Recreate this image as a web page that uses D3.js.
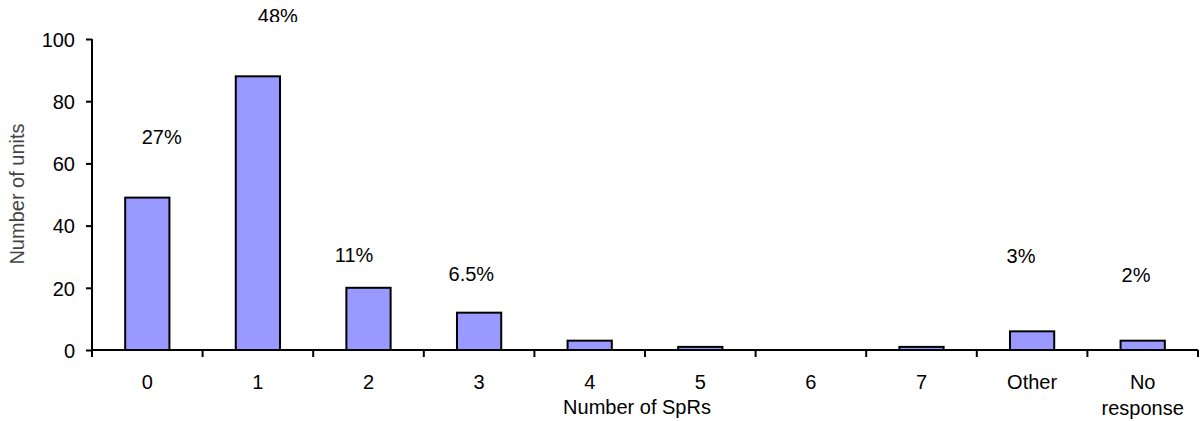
<!DOCTYPE html>
<html><head><meta charset="utf-8">
<script src="https://cdn.jsdelivr.net/npm/d3@7"></script>
<style>body{margin:0;background:#fff}svg{display:block}text{font-family:"Liberation Sans",Arial,sans-serif}</style>
</head><body><svg id="c" width="1203" height="421"></svg>
<script>
const categories = ["0","1","2","3","4","5","6","7","Other","No response"];
const units = [49, 88, 20, 12, 3, 1, 0, 1, 6, 3];
const yTicks = [0, 20, 40, 60, 80, 100];
const pctLabels = ["27%","48%","11%","6.5%","3%","2%"];
const pctCategory = ["0","1","2","3","Other","No response"];
const pctShift = [0.13, 0.18, -0.13, -0.07, -0.1, -0.06];
const pctValue = [68.5, 107.5, 30.5, 24.4, 30.2, 24.1];

const FS = 20;
const svg = d3.select("#c");
const m = {l:92, r:1198, t:39, b:350};
const x = d3.scaleBand().domain(categories).range([m.l, m.r]).paddingInner(0.6).paddingOuter(0.3);
const xb = d3.scaleBand().domain(categories).range([m.l, m.r]);
const y = d3.scaleLinear().domain([0,100]).range([m.b, m.t]);

svg.append("defs").append("clipPath").attr("id", "topclip")
  .append("rect").attr("x", 0).attr("y", 0).attr("width", 1203).attr("height", 22);

// bars
svg.selectAll("rect.bar").data(categories).join("rect")
  .attr("x", d => x(d)).attr("width", x.bandwidth())
  .attr("y", (d,i) => y(units[i])).attr("height", (d,i) => y(0) - y(units[i]))
  .attr("fill", "#9999FF").attr("stroke", "#000").attr("stroke-width", 2);

// y axis
const ya = svg.append("g").attr("transform", `translate(${m.l},0)`)
  .call(d3.axisLeft(y).tickValues(yTicks).tickSize(6).tickPadding(11));
ya.select(".domain").attr("stroke-width", 2).attr("d", `M-0,${m.t}V${m.b}`);
ya.selectAll(".tick line").attr("stroke-width", 2);
ya.selectAll(".tick text").attr("font-size", FS).attr("fill", "#000")
  .attr("dy", "0.36em").style("font-family", "Liberation Sans, Arial");

// x axis
const xa = svg.append("g").attr("transform", `translate(0,${m.b})`);
xa.append("line").attr("x1", m.l).attr("x2", m.r).attr("stroke", "#000").attr("stroke-width", 2);
const bounds = categories.map(c => xb(c)).concat([m.r]);
xa.selectAll("line.tk").data(bounds).join("line").attr("class","tk")
  .attr("x1", d => d).attr("x2", d => d).attr("y1", 0).attr("y2", 7)
  .attr("stroke", "#000").attr("stroke-width", 2);
categories.forEach(c => {
  const t = xa.append("text").attr("x", xb(c) + xb.bandwidth()/2).attr("y", 39)
    .attr("text-anchor", "middle").attr("font-size", FS).attr("fill", "#000");
  const parts = c === "No response" ? ["No", "response"] : [c];
  parts.forEach((p, i) => t.append("tspan").attr("x", xb(c) + xb.bandwidth()/2).attr("dy", i ? 26 : 0).text(p));
});

// axis titles
svg.append("text").attr("x", 637).attr("y", 414).attr("text-anchor", "middle")
  .attr("font-size", FS).attr("fill", "#000").text("Number of SpRs");
svg.append("text").attr("transform", "translate(24,194) rotate(-90)").attr("text-anchor", "middle")
  .attr("font-size", 20).attr("fill", "#444").text("Number of units");

// percentage annotations
pctLabels.forEach((t, i) => {
  const c = pctCategory[i];
  const el = svg.append("text")
    .attr("x", xb(c) + xb.bandwidth() * (0.5 + pctShift[i]))
    .attr("y", y(pctValue[i]) + 0.36 * FS)
    .attr("text-anchor", "middle").attr("font-size", FS).attr("fill", "#000").text(t);
  if (y(pctValue[i]) < m.t) el.attr("clip-path", "url(#topclip)");
});
</script></body></html>
